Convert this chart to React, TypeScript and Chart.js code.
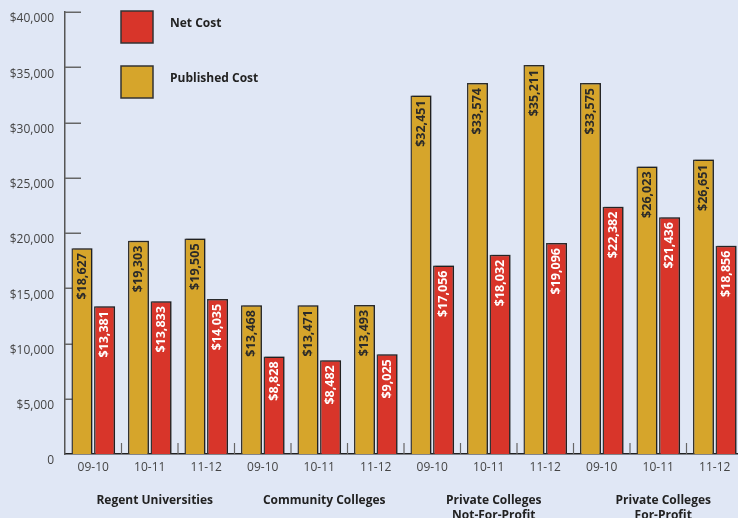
import React, { useEffect, useRef } from "react";
import { Chart, registerables } from "chart.js";

Chart.register(...registerables);

const categories = ["09-10", "10-11", "11-12", "09-10", "10-11", "11-12", "09-10", "10-11", "11-12", "09-10", "10-11", "11-12"];
const groupLabels = [["Regent Universities"], ["Community Colleges"], ["Private Colleges", "Not-For-Profit"], ["Private Colleges", "For-Profit"]];
const groupSize = 3;
const publishedCost = [18627, 19303, 19505, 13468, 13471, 13493, 32451, 33574, 35211, 33575, 26023, 26651];
const netCost = [13381, 13833, 14035, 8828, 8482, 9025, 17056, 18032, 19096, 22382, 21436, 18856];
const yMin = 0;
const yMax = 40000;
const yStep = 5000;

const BG = "#e0e7f5";
const GOLD = "#d6a52b";
const RED = "#d8352a";
const FONT = "'Open Sans', 'DejaVu Sans', sans-serif";

const fmt = (v: number) => "$" + v.toLocaleString("en-US");

const decorPlugin = {
  id: "decor",
  beforeDraw(chart: any) {
    const ctx = chart.ctx;
    ctx.save();
    ctx.fillStyle = BG;
    ctx.fillRect(0, 0, chart.width, chart.height);
    ctx.restore();
  },
  beforeDatasetsDraw(chart: any) {
    const ctx = chart.ctx;
    const { left, bottom } = chart.chartArea;
    const ys = chart.scales.y;
    const xs = chart.scales.x;
    ctx.save();
    ctx.strokeStyle = "#666";
    ctx.lineWidth = 1.5;
    for (let v = yMin + yStep; v <= yMax; v += yStep) {
      const py = Math.round(ys.getPixelForValue(v)) + 0.25;
      ctx.beginPath();
      ctx.moveTo(left, py);
      ctx.lineTo(left + 16, py);
      ctx.stroke();
    }
    ctx.lineWidth = 1.2;
    for (let i = 1; i < categories.length; i++) {
      const px = (xs.getPixelForValue(i - 1) + xs.getPixelForValue(i)) / 2;
      ctx.beginPath();
      ctx.moveTo(px, bottom);
      ctx.lineTo(px, bottom - 11);
      ctx.stroke();
    }
    ctx.restore();
    ctx.save();
    ctx.shadowColor = "rgba(0,0,0,0.35)";
    ctx.shadowOffsetX = 1.5;
    ctx.shadowOffsetY = -1;
    ctx.shadowBlur = 0;
  },
  afterDatasetsDraw(chart: any) {
    const ctx = chart.ctx;
    ctx.restore();
    ctx.save();
    ctx.font = `bold 12.5px ${FONT}`;
    chart.data.datasets.forEach((ds: any, di: number) => {
      const meta = chart.getDatasetMeta(di);
      ctx.fillStyle = di === 0 ? "#2a2a2a" : "#ffffff";
      meta.data.forEach((bar: any, i: number) => {
        ctx.save();
        ctx.translate(bar.x, bar.y + 5);
        ctx.rotate(-Math.PI / 2);
        ctx.textAlign = "right";
        ctx.textBaseline = "middle";
        ctx.fillText(fmt(ds.data[i]), 0, 0);
        ctx.restore();
      });
    });
    ctx.restore();
  },
  afterDraw(chart: any) {
    const ctx = chart.ctx;
    const xs = chart.scales.x;
    ctx.save();
    const items = [
      { label: chart.data.datasets[1].label, color: chart.data.datasets[1].backgroundColor, y: 11 },
      { label: chart.data.datasets[0].label, color: chart.data.datasets[0].backgroundColor, y: 66 },
    ];
    items.forEach((it) => {
      ctx.fillStyle = it.color;
      ctx.fillRect(121, it.y, 32, 32);
      ctx.strokeStyle = "#333";
      ctx.lineWidth = 1.5;
      ctx.strokeRect(121, it.y, 32, 32);
      ctx.fillStyle = "#222";
      ctx.font = `bold 12px ${FONT}`;
      ctx.textAlign = "left";
      ctx.textBaseline = "middle";
      ctx.fillText(it.label, 170, it.y + 13);
    });
    ctx.font = `bold 12px ${FONT}`;
    ctx.fillStyle = "#222";
    ctx.textAlign = "center";
    ctx.textBaseline = "middle";
    groupLabels.forEach((lines, g) => {
      const a = xs.getPixelForValue(g * groupSize);
      const b = xs.getPixelForValue(g * groupSize + groupSize - 1);
      const cx = (a + b) / 2 + 5;
      lines.forEach((ln, k) => {
        ctx.fillText(ln, cx, 501 + k * 15);
      });
    });
    ctx.restore();
  },
};

export default function App() {
  const ref = useRef<HTMLCanvasElement | null>(null);
  useEffect(() => {
    if (!ref.current) return;
    const chart = new Chart(ref.current, {
      type: "bar",
      data: {
        labels: categories,
        datasets: [
          {
            label: "Published Cost",
            data: publishedCost,
            backgroundColor: GOLD,
            borderColor: "#333",
            borderWidth: 1.5,
            categoryPercentage: 0.8,
            barPercentage: 0.93,
          },
          {
            label: "Net Cost",
            data: netCost,
            backgroundColor: RED,
            borderColor: "#333",
            borderWidth: 1.5,
            categoryPercentage: 0.8,
            barPercentage: 0.93,
          },
        ],
      },
      options: {
        animation: false,
        responsive: false,
        devicePixelRatio: 1,
        layout: { padding: { top: 12, right: 0, bottom: 0, left: 0 } },
        plugins: { legend: { display: false }, tooltip: { enabled: false } },
        scales: {
          x: {
            grid: { display: false, drawTicks: false },
            border: { display: true, color: "#222", width: 1.5 },
            ticks: { color: "#444", font: { family: FONT, size: 12 }, padding: 6, maxRotation: 0, autoSkip: false },
            afterFit: (s: any) => { s.height = 64; s.paddingLeft = 0; s.paddingRight = 0; },
          },
          y: {
            min: yMin,
            max: yMax,
            grid: { display: false, drawTicks: false },
            border: { display: true, color: "#555", width: 1.5 },
            ticks: {
              stepSize: yStep,
              color: "#444",
              font: { family: FONT, size: 12 },
              padding: 11,
              labelOffset: 7,
              callback: (v: any) => (v === 0 ? "0" : fmt(Number(v))),
            },
            afterFit: (s: any) => { s.width = 65; s.paddingTop = 0; s.paddingBottom = 0; },
          },
        },
      },
      plugins: [decorPlugin],
    });
    return () => chart.destroy();
  }, []);
  return (
    <div style={{ position: "fixed", left: 0, top: 0, width: 738, height: 518, overflow: "hidden", background: BG }}>
      <canvas ref={ref} width={743} height={518} style={{ display: "block", width: 743, height: 518 }} />
    </div>
  );
}
